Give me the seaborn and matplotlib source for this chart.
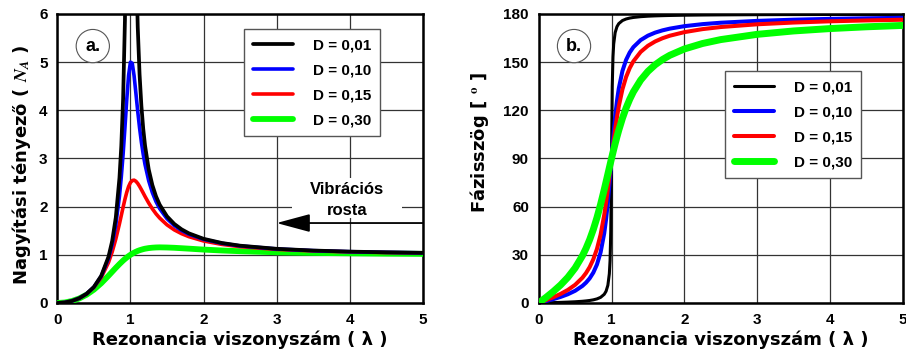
import matplotlib
matplotlib.use("Agg")
import matplotlib.pyplot as plt
from matplotlib.patches import Rectangle
import pandas as pd
import seaborn as sns

# Magnification factor vs. frequency ratio
lam_amp = [0, 0.1, 0.2, 0.3, 0.4, 0.5, 0.6, 0.7, 0.75, 0.8, 0.85, 0.875, 0.9,
           0.925, 0.95, 0.975, 1.0, 1.025, 1.05, 1.075, 1.1, 1.125, 1.15,
           1.175, 1.2, 1.25, 1.3, 1.35, 1.4, 1.5, 1.6, 1.7, 1.8, 2.0, 2.25,
           2.5, 3.0, 3.5, 4.0, 4.5, 5.0]
amp_d001 = [0, 0.010, 0.042, 0.099, 0.190, 0.333, 0.563, 0.960, 1.285, 1.776,
            2.599, 3.258, 4.244, 5.877, 9.086, 17.9, 50.0, 19.24, 10.54, 7.356,
            5.730, 4.748, 4.090, 3.620, 3.268, 2.775, 2.448, 2.215, 2.041,
            1.800, 1.641, 1.529, 1.446, 1.333, 1.246, 1.190, 1.125, 1.089,
            1.067, 1.052, 1.042]
amp_d010 = [0, 0.010, 0.042, 0.099, 0.190, 0.330, 0.553, 0.927, 1.216, 1.624,
            2.220, 2.618, 3.095, 3.646, 4.226, 4.727, 5.000, 4.976, 4.718, 4.354,
            3.979, 3.636, 3.339, 3.086, 2.873, 2.538, 2.292, 2.105, 1.960,
            1.750, 1.608, 1.505, 1.428, 1.322, 1.239, 1.185, 1.122, 1.087,
            1.065, 1.051, 1.041]
amp_d015 = [0, 0.010, 0.042, 0.098, 0.187, 0.322, 0.527, 0.842, 1.060, 1.329,
            1.646, 1.818, 1.990, 2.154, 2.300, 2.418, 2.500, 2.543, 2.550, 2.527,
            2.482, 2.422, 2.354, 2.283, 2.211, 2.076, 1.956, 1.852, 1.764,
            1.623, 1.518, 1.439, 1.377, 1.288, 1.217, 1.169, 1.113, 1.081,
            1.061, 1.047, 1.038]
amp_d030 = [0, 0.010, 0.041, 0.094, 0.172, 0.277, 0.410, 0.566, 0.648, 0.730,
            0.808, 0.845, 0.881, 0.914, 0.945, 0.974, 1.000, 1.024, 1.045, 1.064,
            1.081, 1.095, 1.107, 1.118, 1.127, 1.140, 1.148, 1.153, 1.155,
            1.152, 1.146, 1.137, 1.128, 1.109, 1.090, 1.075, 1.053, 1.040,
            1.031, 1.024, 1.020]

# Phase angle vs. frequency ratio
lam_phase = [0, 0.1, 0.2, 0.3, 0.4, 0.5, 0.6, 0.65, 0.7, 0.75, 0.8, 0.85, 0.9,
             0.925, 0.95, 0.97, 0.98, 0.99, 1.0, 1.01, 1.02, 1.03, 1.05, 1.075,
             1.1, 1.15, 1.2, 1.25, 1.3, 1.4, 1.5, 1.6, 1.7, 1.8, 2.0, 2.25,
             2.5, 3.0, 3.5, 4.0, 4.5, 5.0]
ph_d001 = [0, 0.12, 0.24, 0.38, 0.55, 0.76, 1.07, 1.29, 1.57, 1.96, 2.55, 3.51,
           5.41, 7.30, 11.03, 18.17, 26.33, 44.86, 90.0, 134.86, 153.21, 161.31,
           168.42, 172.13, 174.02, 175.92, 176.88, 177.46, 177.84, 178.33,
           178.63, 178.83, 178.97, 179.08, 179.24, 179.37, 179.45, 179.57,
           179.64, 179.69, 179.73, 179.76]
ph_d010 = [0, 1.16, 2.39, 3.77, 5.44, 7.59, 10.62, 12.69, 15.35, 18.92, 23.96,
           31.49, 43.45, 52.03, 62.84, 73.06, 78.58, 84.26, 90.0, 95.68, 101.20,
           106.47, 116.02, 125.90, 133.67, 144.50, 151.39, 156.04, 159.35,
           163.74, 166.50, 168.41, 169.80, 170.87, 172.41, 173.68, 174.56,
           175.71, 176.44, 176.95, 177.32, 177.61]
ph_d015 = [0, 1.74, 3.58, 5.65, 8.13, 11.31, 15.71, 18.66, 22.38, 27.22, 33.69,
           42.58, 54.87, 62.51, 71.11, 78.52, 82.33, 86.17, 90.0, 93.80, 97.52,
           101.15, 108.03, 115.76, 122.47, 133.07, 140.71, 146.31, 150.52,
           156.37, 160.20, 162.90, 164.90, 166.45, 168.69, 170.57, 171.87,
           173.58, 174.67, 175.43, 175.99, 176.42]
ph_d030 = [0, 3.47, 7.13, 11.19, 15.95, 21.80, 29.36, 34.03, 39.47, 45.81, 53.13,
           61.45, 70.62, 75.42, 80.29, 84.20, 86.15, 88.08, 90.0, 91.90, 93.78,
           95.63, 99.24, 103.56, 107.65, 115.05, 121.43, 126.87, 131.50,
           138.81, 144.25, 148.39, 151.64, 154.26, 158.20, 161.62, 164.05,
           167.32, 169.43, 170.91, 172.02, 172.87]

labels = ["D = 0,01", "D = 0,10", "D = 0,15", "D = 0,30"]
colors = ["#000000", "#0000ff", "#ff0000", "#00ff00"]

amp_df = pd.DataFrame({
    "lam": lam_amp * 4,
    "val": amp_d001 + amp_d010 + amp_d015 + amp_d030,
    "D": sum([[lab] * len(lam_amp) for lab in labels], []),
})
phase_df = pd.DataFrame({
    "lam": lam_phase * 4,
    "val": ph_d001 + ph_d010 + ph_d015 + ph_d030,
    "D": sum([[lab] * len(lam_phase) for lab in labels], []),
})

sns.set_style("white")
plt.rcParams["font.family"] = ["Liberation Sans", "DejaVu Sans"]
plt.rcParams["font.weight"] = "bold"
plt.rcParams["axes.labelweight"] = "bold"
plt.rcParams["mathtext.fontset"] = "stix"
for key in ("text.color", "axes.labelcolor", "xtick.color", "ytick.color",
            "xtick.labelcolor", "ytick.labelcolor", "legend.labelcolor"):
    plt.rcParams[key] = "black"

fig = plt.figure(figsize=(9.06, 3.55), dpi=100)
ax1 = fig.add_axes([0.0633, 0.1465, 0.4033, 0.8141])
ax2 = fig.add_axes([0.5946, 0.1465, 0.4018, 0.8141])


def draw_panel(ax, df, widths, zorders):
    handles = []
    for lab, col, lw, z in zip(labels, colors, widths, zorders):
        sub = df[df["D"] == lab]
        sns.lineplot(data=sub, x="lam", y="val", color=col, linewidth=lw,
                     estimator=None, sort=True, legend=False, ax=ax,
                     zorder=z)
        handles.append(ax.lines[-1])
    return handles


h1 = draw_panel(ax1, amp_df, [2.7, 2.6, 2.6, 4.2], [6, 5, 4, 3])
h2 = draw_panel(ax2, phase_df, [2.2, 2.9, 2.9, 5.0], [3, 4, 5, 6])

label_font = dict(family=["DejaVu Sans"], weight="bold", size=13,
                  color="black")

for ax in (ax1, ax2):
    ax.set_xlim(0, 5)
    ax.set_xticks([0, 1, 2, 3, 4, 5])
    ax.grid(True, color="#333333", linewidth=0.9)
    ax.set_axisbelow(True)
    for sp in ax.spines.values():
        sp.set_visible(True)
        sp.set_color("black")
        sp.set_linewidth(1.8)
    ax.tick_params(axis="both", length=0, pad=7, labelsize=11,
                   labelcolor="black")
    ax.set_xlabel("Rezonancia viszonyszám ( λ )", fontdict=label_font,
                  labelpad=3)

ax1.set_ylim(0, 6)
ax1.set_yticks([0, 1, 2, 3, 4, 5, 6])
ax1.set_ylabel("Nagyítási tényező ( $N_A$ )", fontdict=label_font)
ax1.yaxis.set_label_coords(-0.067, 0.478)

ax2.set_ylim(0, 180)
ax2.set_yticks([0, 30, 60, 90, 120, 150, 180])
ax2.set_ylabel("Fázisszög [ $^{\\mathrm{o}}$ ]", fontdict=label_font)
ax2.yaxis.set_label_coords(-0.131, 0.555)

for ax, handles, anchor in ((ax1, h1, (0.511, 0.948)), (ax2, h2, (0.512, 0.803))):
    leg = ax.legend(handles, labels, loc="upper left", bbox_to_anchor=anchor,
                    borderaxespad=0, frameon=True, fancybox=False,
                    edgecolor="#555555", framealpha=1,
                    prop=dict(weight="bold", size=11), handlelength=2.6,
                    handletextpad=1.3, labelspacing=0.72, borderpad=0.6)
    leg.get_frame().set_linewidth(1.0)
    leg.set_zorder(10)

# Panel tags
for ax, tag in ((ax1, "a."), (ax2, "b.")):
    ax.text(0.097, 0.889, tag, transform=ax.transAxes, ha="center",
            va="center", fontsize=13, fontweight="bold", zorder=11,
            color="black",
            bbox=dict(boxstyle="circle,pad=0.45", fc="white", ec="#555555",
                      lw=0.8))

# Operating range note for vibrating screens
ax1.add_patch(Rectangle((0.642, 0.294), 0.301, 0.138, transform=ax1.transAxes,
                        facecolor="white", edgecolor="none", zorder=2))
ax1.text(0.793, 0.356, "Vibrációs\nrosta", transform=ax1.transAxes,
         ha="center", va="center", fontsize=12, fontweight="bold",
         linespacing=1.45, zorder=7, color="black")
ax1.annotate("", xy=(3.0, 1.66), xytext=(5.0, 1.66),
             arrowprops=dict(arrowstyle="-|>,head_length=1.3,head_width=0.35",
                             color="black", lw=1.3, shrinkA=0, shrinkB=0,
                             mutation_scale=16),
             zorder=7)

fig.savefig("out.png", dpi=100)
